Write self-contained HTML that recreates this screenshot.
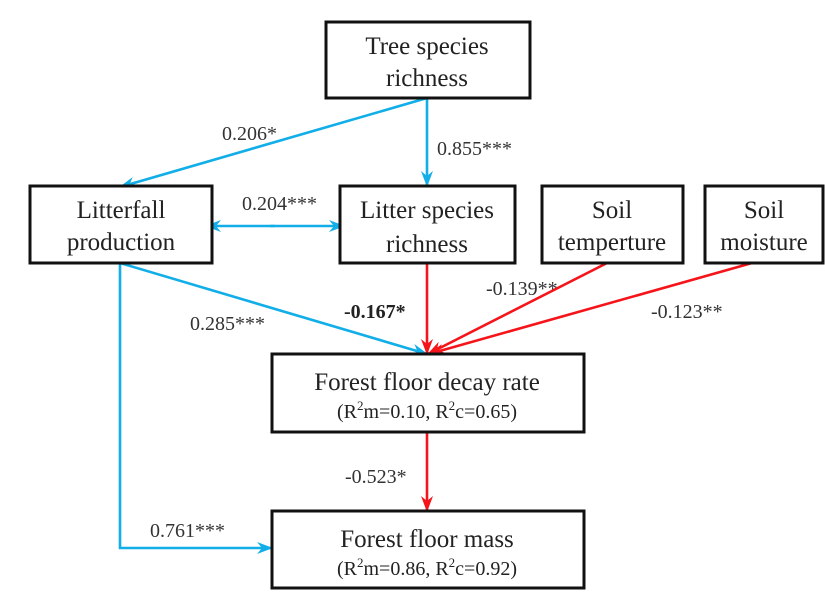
<!DOCTYPE html>
<html><head><meta charset="utf-8"><style>
html,body{margin:0;padding:0;background:#fff;}
svg{display:block;}
text{font-family:"Liberation Serif","DejaVu Serif",serif;fill:#222;}
.b{font-size:25px;text-anchor:middle;}
.l{font-size:20px;fill:#333;}
</style></head><body>
<svg width="825" height="606" viewBox="0 0 825 606" font-family="Liberation Serif, DejaVu Serif, serif">
<defs>
<marker id="ab" viewBox="0 0 16 12" refX="15" refY="6" markerWidth="16" markerHeight="12" orient="auto" markerUnits="userSpaceOnUse"><path d="M0,0 L16,6 L0,12 L5,6 z" fill="#12aee8"/></marker>
<marker id="ar" viewBox="0 0 16 12" refX="15" refY="6" markerWidth="16" markerHeight="12" orient="auto" markerUnits="userSpaceOnUse"><path d="M0,0 L16,6 L0,12 L5,6 z" fill="#f5141a"/></marker>
</defs>
<g fill="none" stroke-width="2.6">
<line x1="427" y1="98" x2="427" y2="186" stroke="#12aee8" marker-end="url(#ab)"/>
<line x1="427" y1="98" x2="120" y2="187" stroke="#12aee8" marker-end="url(#ab)"/>
<line x1="275" y1="226" x2="206" y2="226" stroke="#12aee8" marker-end="url(#ab)"/>
<line x1="270" y1="226" x2="344" y2="226" stroke="#12aee8" marker-end="url(#ab)"/>
<line x1="120" y1="263" x2="427" y2="354" stroke="#12aee8" marker-end="url(#ab)"/>
<polyline points="120,263 120,548 272,548" stroke="#12aee8" marker-end="url(#ab)"/>
<line x1="427" y1="263" x2="427" y2="354" stroke="#f5141a" marker-end="url(#ar)"/>
<line x1="607" y1="263" x2="428" y2="354" stroke="#f5141a" marker-end="url(#ar)"/>
<line x1="752" y1="263" x2="429" y2="354" stroke="#f5141a" marker-end="url(#ar)"/>
<line x1="427" y1="432" x2="427" y2="511" stroke="#f5141a" marker-end="url(#ar)"/>
</g>
<g fill="#fff" stroke="#111" stroke-width="3">
<rect x="326" y="22" width="204" height="76"/>
<rect x="30" y="186" width="182" height="77"/>
<rect x="340" y="186" width="175" height="77"/>
<rect x="542" y="186" width="141" height="77"/>
<rect x="705" y="186" width="118" height="77"/>
<rect x="272" y="354" width="312" height="78"/>
<rect x="272" y="511" width="312" height="77"/>
</g>
<text class="b" x="427" y="54">Tree species</text>
<text class="b" x="427" y="86">richness</text>
<text class="b" x="121" y="218">Litterfall</text>
<text class="b" x="121" y="250">production</text>
<text class="b" x="427" y="218">Litter species</text>
<text class="b" x="427" y="252">richness</text>
<text class="b" x="612" y="218">Soil</text>
<text class="b" x="612" y="250">temperture</text>
<text class="b" x="764" y="218">Soil</text>
<text class="b" x="764" y="250">moisture</text>
<text class="b" x="427" y="390">Forest floor decay rate</text>
<text x="427" y="418" style="font-size:20px;text-anchor:middle">(R<tspan dy="-8" font-size="13">2</tspan><tspan dy="8">m=0.10, R</tspan><tspan dy="-8" font-size="13">2</tspan><tspan dy="8">c=0.65)</tspan></text>
<text class="b" x="427" y="547">Forest floor mass</text>
<text x="427" y="575" style="font-size:20px;text-anchor:middle">(R<tspan dy="-8" font-size="13">2</tspan><tspan dy="8">m=0.86, R</tspan><tspan dy="-8" font-size="13">2</tspan><tspan dy="8">c=0.92)</tspan></text>
<text class="l" x="222" y="140">0.206*</text>
<text class="l" x="437" y="155">0.855***</text>
<text class="l" x="242" y="210">0.204***</text>
<text class="l" x="486" y="295">-0.139**</text>
<text class="l" x="651" y="318">-0.123**</text>
<text class="l" x="190" y="330">0.285***</text>
<text class="l" x="344" y="318" style="font-weight:bold;fill:#222">-0.167*</text>
<text class="l" x="345" y="483">-0.523*</text>
<text class="l" x="150" y="537">0.761***</text>
</svg>
</body></html>
